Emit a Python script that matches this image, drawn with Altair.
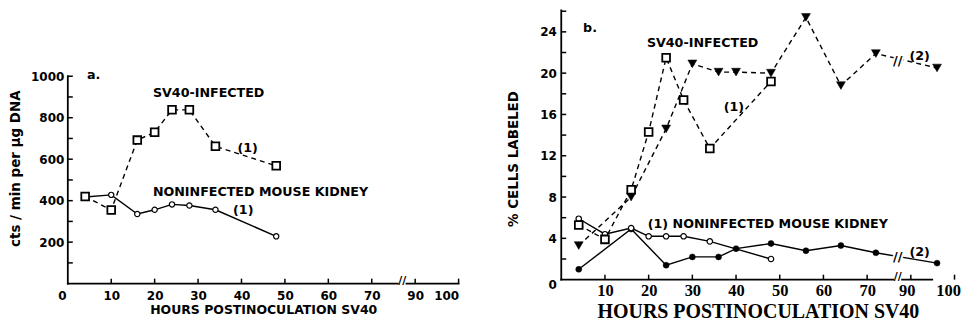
import altair as alt
import pandas as pd

# ---------------- data: panel a ----------------
a_hours = [4, 10, 16, 20, 24, 28, 34, 48]
a_sv40 = [420, 355, 692, 730, 838, 838, 662, 568]
a_noninf = [418, 428, 336, 356, 382, 377, 356, 228]

# ---------------- data: panel b ----------------
b_sq_hours = [4, 10, 16, 20, 24, 28, 34, 48]
b_sq_vals = [5.3, 3.9, 8.7, 14.3, 21.5, 17.4, 12.7, 19.2]
b_tri_hours = [4, 16, 24, 30, 36, 40, 48, 56, 64, 72, 96]
b_tri_vals = [3.3, 8.0, 14.6, 20.9, 20.1, 20.1, 20.0, 25.4, 18.8, 21.9, 20.5]
b_oc_hours = [4, 10, 16, 20, 24, 28, 34, 48]
b_oc_vals = [5.9, 4.4, 5.0, 4.2, 4.2, 4.2, 3.7, 2.0]
b_fc_hours = [4, 16, 24, 30, 36, 40, 48, 56, 64, 72, 96]
b_fc_vals = [1.0, 4.9, 1.4, 2.2, 2.2, 3.0, 3.5, 2.8, 3.3, 2.6, 1.6]

# ---------------- axes / ticks ----------------
a_x_labels = [0, 10, 20, 30, 40, 50, 60, 70, 90, 100]
x_ticks = [10, 20, 30, 40, 50, 60, 70, 90, 100]
b_x_labels = [10, 20, 30, 40, 50, 60, 70, 90, 100]
a_y_labels = [200, 400, 600, 800, 1000]
a_y_ticks = [100, 200, 300, 400, 500, 600, 700, 800, 900, 1000]
b_y_labels = [0, 4, 8, 12, 16, 20, 24]
b_y_ticks = [2, 4, 6, 8, 10, 12, 14, 16, 18, 20, 22, 24, 26]
break_lo, break_hi = 76, 88
a_y_top, a_y_max = 1000, 1317
b_y_max = 26.07
b_x_end = 94.9

# annotations
a_text_h = [4.4, 19.6, 19.6]
a_text_v = [1007, 919, 442]
a_text_lbl = ["a.", "SV40-INFECTED", "NONINFECTED MOUSE KIDNEY"]
a_num_h = [41.4, 40.4]
a_num_v = [655, 354]
a_num_lbl = ["(1)", "(1)"]

b_text_h = [5.0, 19.6, 19.8]
b_text_v = [24.4, 22.9, 5.4]
b_text_lbl = ["b.", "SV40-INFECTED", "(1) NONINFECTED MOUSE KIDNEY"]
b_num_h = [39.5, 92, 92]
b_num_v = [16.7, 21.7, 2.65]
b_num_lbl = ["(1)", "(2)", "(2)"]
b_brk_h = [82, 82]
b_brk_v = [21.2, 2.2]

WA, HA = 392, 274
WB, HB = 394.5, 270
SANS = "DejaVu Sans"
SERIF = "Liberation Serif"
TICK_PX = 5

kA = WA / 90.0
kB = WB / 90.0
xa = alt.Scale(domain=[0, break_lo, break_hi, 100],
               range=[0, break_lo * kA, 78 * kA, WA], nice=False, zero=False)
xb = alt.Scale(domain=[0, break_lo, break_hi, 100],
               range=[0, break_lo * kB, 78 * kB, WB], nice=False, zero=False)
ya = alt.Scale(domain=[0, a_y_max], nice=False, zero=False)
yb = alt.Scale(domain=[0, b_y_max], nice=False, zero=False)

ax_xa = alt.Axis(values=a_x_labels, title="HOURS POSTINOCULATION SV40", domain=False,
                 ticks=False, tickSize=0, grid=False, labelFont=SANS, labelFontSize=12,
                 labelFontWeight="bold", labelColor="black", labelPadding=7, labelOverlap=False,
                 labelOffset={"condition": {"test": "datum.value === 0", "value": -10}, "value": 0},
                 titleFont=SANS, titleFontSize=12.5, titleFontWeight="bold", titleColor="black",
                 titlePadding=12, titleBaseline="alphabetic")
ax_ya = alt.Axis(values=a_y_labels, format="d", title="cts / min per µg DNA", domain=False,
                 ticks=False, tickSize=0, grid=False, labelFont=SANS, labelFontSize=12,
                 labelFontWeight="bold", labelColor="black", labelPadding=4, titleFont=SANS,
                 titleFontSize=13.5, titleFontWeight="bold", titleColor="black", titlePadding=8,
                 titleY=158.2)
ax_xb = alt.Axis(values=b_x_labels, title="HOURS POSTINOCULATION SV40", domain=False,
                 ticks=False, tickSize=0, grid=False, labelFont=SERIF, labelFontSize=16.5,
                 labelFontWeight="bold", labelColor="black", labelPadding=3, labelOverlap=False,
                 labelFlush=True, labelFlushOffset=6,
                 labelOffset={"condition": {"test": "datum.value === 90", "value": -4}, "value": 0},
                 titleFont=SERIF, titleFontSize=20, titleFontWeight="bold", titleColor="black",
                 titlePadding=18, titleBaseline="alphabetic")
ax_yb = alt.Axis(values=b_y_labels, title="% CELLS LABELED", domain=False, ticks=False,
                 tickSize=0, grid=False, labelFont=SANS, labelFontSize=12, labelFontWeight="bold",
                 labelColor="black", labelPadding=5,
                 labelBaseline={"condition": {"test": "datum.value === 0", "value": "top"}, "value": "middle"},
                 titleFont=SANS, titleFontSize=13.5, titleFontWeight="bold", titleColor="black",
                 titlePadding=19, titleY=148.5)

XA = alt.X("h:Q", scale=xa, axis=ax_xa)
YA = alt.Y("v:Q", scale=ya, axis=ax_ya)
XB = alt.X("h:Q", scale=xb, axis=ax_xb)
YB = alt.Y("v:Q", scale=yb, axis=ax_yb)


def df(h, v, **extra):
    d = pd.DataFrame({"h": h, "v": v})
    for k, val in extra.items():
        d[k] = val
    return d


def axis_layers(X, Y, k, y_px, y_top, y_ticks, x_end):
    rule = dict(color="black", strokeWidth=1.8, strokeCap="square")
    yaxis = alt.Chart(pd.DataFrame({"h": [0], "v": [0], "v2": [y_top]})).mark_rule(**rule).encode(
        x=X, y=Y, y2="v2:Q")
    base = alt.Chart(pd.DataFrame({"h": [0, break_hi], "h2": [break_lo, x_end], "v": [0, 0]})).mark_rule(
        **rule).encode(x=X, x2="h2:Q", y=Y)
    yt = alt.Chart(pd.DataFrame({"v": y_ticks, "h": [0] * len(y_ticks),
                                 "h2": [TICK_PX / k] * len(y_ticks)})).mark_rule(
        color="black", strokeWidth=1.5).encode(x=X, x2="h2:Q", y=Y)
    xt = alt.Chart(pd.DataFrame({"h": x_ticks, "v": [0] * len(x_ticks),
                                 "v2": [TICK_PX / y_px] * len(x_ticks)})).mark_rule(
        color="black", strokeWidth=1.5).encode(x=X, y=Y, y2="v2:Q")
    brk = alt.Chart(pd.DataFrame({"h": [(break_lo + break_hi) / 2], "v": [0]})).mark_text(
        text="//", font=SANS, fontSize=11, fontWeight="bold", color="black", dy=-3,
        baseline="middle", align="center").encode(x=X, y=Y)
    return [yaxis, base, yt, xt, brk]


def line(d, X, Y, dashed):
    kw = dict(color="black", strokeWidth=1.4)
    if dashed:
        kw["strokeDash"] = [5, 4]
    return alt.Chart(d).mark_line(**kw).encode(x=X, y=Y)


def points(d, X, Y, shape, size, fill, sw):
    return alt.Chart(d).mark_point(shape=shape, size=size, filled=True, fill=fill, stroke="black",
                                   strokeWidth=sw, opacity=1).encode(x=X, y=Y)


def texts(d, X, Y, align, size=12.7):
    return alt.Chart(d).mark_text(align=align, baseline="middle", font=SANS, fontWeight="bold",
                                  fontSize=size, color="black").encode(x=X, y=Y, text="label:N")


# ---------------- panel a ----------------
a_sv_df = df(a_hours, a_sv40)
a_non_df = df(a_hours, a_noninf)
panel_a = alt.layer(
    *axis_layers(XA, YA, kA, HA / a_y_max, a_y_top, a_y_ticks, 100),
    line(a_non_df, XA, YA, False),
    line(a_sv_df, XA, YA, True),
    points(a_non_df, XA, YA, "circle", 28, "white", 1.2),
    points(a_sv_df, XA, YA, "square", 60, "white", 1.8),
    texts(df(a_text_h, a_text_v, label=a_text_lbl), XA, YA, "left"),
    texts(df(a_num_h, a_num_v, label=a_num_lbl), XA, YA, "center"),
).properties(width=WA, height=HA)

# ---------------- panel b ----------------
b_sq_df = df(b_sq_hours, b_sq_vals)
b_tri_df = df(b_tri_hours, b_tri_vals)
b_oc_df = df(b_oc_hours, b_oc_vals)
b_fc_df = df(b_fc_hours, b_fc_vals)
brk_df = df(b_brk_h, b_brk_v)
panel_b = alt.layer(
    *axis_layers(XB, YB, kB, HB / b_y_max, b_y_max, b_y_ticks, b_x_end),
    line(b_fc_df, XB, YB, False),
    line(b_oc_df, XB, YB, False),
    line(b_tri_df, XB, YB, True),
    line(b_sq_df, XB, YB, True),
    alt.Chart(brk_df).mark_text(text="//", font=SANS, fontSize=13, fontWeight="bold",
                                color="white", stroke="white", strokeWidth=4,
                                baseline="middle", align="center").encode(x=XB, y=YB),
    alt.Chart(brk_df).mark_text(text="//", font=SANS, fontSize=13, fontWeight="bold",
                                color="black", baseline="middle", align="center").encode(x=XB, y=YB),
    points(b_fc_df, XB, YB, "circle", 36, "black", 0.5),
    points(b_oc_df, XB, YB, "circle", 30, "white", 1.2),
    points(b_tri_df, XB, YB, "triangle-down", 80, "black", 0.5),
    points(b_sq_df, XB, YB, "square", 60, "white", 1.8),
    texts(df(b_text_h, b_text_v, label=b_text_lbl), XB, YB, "left"),
    texts(df(b_num_h, b_num_v, label=b_num_lbl), XB, YB, "center"),
).properties(width=WB, height=HB)

chart = alt.hconcat(panel_a, panel_b, spacing=46).properties(
    padding={"left": 0, "top": 0, "right": 0, "bottom": 0},
    background="white",
).configure_view(strokeWidth=0)

chart.save("out.html", embed_options={"renderer": "svg", "actions": False})
